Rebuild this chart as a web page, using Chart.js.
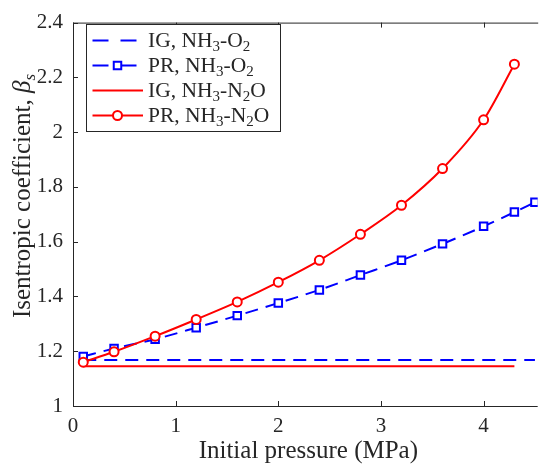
<!DOCTYPE html>
<html>
<head>
<meta charset="utf-8">
<script src="https://cdn.jsdelivr.net/npm/chart.js@4"></script>
<style>
html, body { margin: 0; padding: 0; background: #fff; }
</style>
</head>
<body>
<canvas id="chart" width="545" height="468"></canvas>
<script>
// pressures (MPa) where the markers sit
const pressureO2 = [0.1, 0.4, 0.8, 1.2, 1.6, 2.0, 2.4, 2.8, 3.2, 3.6, 4.0, 4.3, 4.5]
const pressureN2O = [0.1, 0.4, 0.8, 1.2, 1.6, 2.0, 2.4, 2.8, 3.2, 3.6, 4.0, 4.3]

// isentropic coefficient
const igO2 = [1.168, 1.168, 1.168, 1.168, 1.168, 1.168, 1.168, 1.168, 1.168, 1.168, 1.168, 1.168, 1.168]
const prO2 = [1.181, 1.210, 1.244, 1.286, 1.330, 1.376, 1.424, 1.478, 1.532, 1.592, 1.656, 1.708, 1.744]
const igN2O = [1.145, 1.145, 1.145, 1.145, 1.145, 1.145, 1.145, 1.145, 1.145, 1.145, 1.145, 1.145]
const prN2O = [1.160, 1.198, 1.255, 1.316, 1.380, 1.452, 1.532, 1.627, 1.733, 1.867, 2.045, 2.248]

const seriesLabels = ['IG, NH₃-O₂', 'PR, NH₃-O₂', 'IG, NH₃-N₂O', 'PR, NH₃-N₂O']
const xTicks = [0, 1, 2, 3, 4]
const yTicks = [1, 1.2, 1.4, 1.6, 1.8, 2, 2.2, 2.4]

const FONT = '"Liberation Serif", "DejaVu Serif", serif'
const AXIS = '#262626'
const BLUE = 'rgb(0, 0, 255)'
const RED = 'rgb(255, 0, 0)'

function toPoints(xs, ys) {
	return xs.map((x, i) => ({ x: x, y: ys[i] }))
}

const SUBS = { '₀': '0', '₁': '1', '₂': '2', '₃': '3', '₄': '4', '₅': '5', '₆': '6', '₇': '7', '₈': '8', '₉': '9' }

// draws text where unicode subscript digits become small lowered digits
function drawRichText(ctx, text, x, y, size) {
	let cx = x
	for (const ch of text) {
		if (SUBS[ch]) {
			ctx.font = `${Math.round(size * 0.7)}px ${FONT}`
			ctx.fillText(SUBS[ch], cx, y + size * 0.25)
			cx += ctx.measureText(SUBS[ch]).width
		} else {
			ctx.font = `${size}px ${FONT}`
			ctx.fillText(ch, cx, y)
			cx += ctx.measureText(ch).width
		}
	}
	return cx - x
}

// box round the axes and inward tick marks, like the original
const framePlugin = {
	id: 'frame',
	afterDatasetsDraw(chart) {
		const { ctx, chartArea: a, scales } = chart
		ctx.save()
		ctx.strokeStyle = AXIS
		ctx.lineWidth = 1
		ctx.beginPath()
		ctx.moveTo(a.left + 0.5, a.top + 0.5)
		ctx.lineTo(a.right + 0.5, a.top + 0.5)
		ctx.moveTo(a.left + 0.5, a.top)
		ctx.lineTo(a.left + 0.5, a.bottom + 0.5)
		ctx.lineTo(a.right, a.bottom + 0.5)
		const len = 5
		xTicks.forEach(t => {
			const px = Math.round(scales.x.getPixelForValue(t)) + 0.5
			ctx.moveTo(px, a.bottom)
			ctx.lineTo(px, a.bottom - len)
			ctx.moveTo(px, a.top)
			ctx.lineTo(px, a.top + len)
		})
		yTicks.forEach(t => {
			const py = Math.round(scales.y.getPixelForValue(t)) + 0.5
			ctx.moveTo(a.left, py)
			ctx.lineTo(a.left + len, py)
		})
		ctx.stroke()
		ctx.restore()
	},
}

// axis titles, the y one has italic beta with subscript s
const titlesPlugin = {
	id: 'titles',
	afterDraw(chart) {
		const { ctx, chartArea: a } = chart
		const size = 25
		ctx.save()
		ctx.fillStyle = AXIS
		ctx.textBaseline = 'alphabetic'
		ctx.font = `${size}px ${FONT}`
		ctx.textAlign = 'center'
		ctx.fillText('Initial pressure (MPa)', (a.left + a.right) / 2 + 3, 458)

		ctx.translate(30, 196)
		ctx.rotate(-Math.PI / 2)
		ctx.textAlign = 'left'
		const main = 'Isentropic coefficient, '
		ctx.font = `${size}px ${FONT}`
		const w1 = ctx.measureText(main).width
		ctx.font = `italic ${size}px ${FONT}`
		const w2 = ctx.measureText('β').width
		ctx.font = `italic 17px ${FONT}`
		const w3 = ctx.measureText('s').width
		let x = -(w1 + w2 + w3) / 2
		ctx.font = `${size}px ${FONT}`
		ctx.fillText(main, x, 0)
		x += w1
		ctx.font = `italic ${size}px ${FONT}`
		ctx.fillText('β', x, 0)
		x += w2
		ctx.font = `italic 17px ${FONT}`
		ctx.fillText('s', x, 5)
		ctx.restore()
	},
}

// legend box drawn by hand so the chemical formulas get real subscripts
const legendPlugin = {
	id: 'boxLegend',
	afterDraw(chart) {
		const { ctx } = chart
		const box = { x: 86.5, y: 24.5, w: 194, h: 107 }
		ctx.save()
		ctx.fillStyle = '#fff'
		ctx.fillRect(box.x, box.y, box.w, box.h)
		ctx.strokeStyle = AXIS
		ctx.lineWidth = 1
		ctx.strokeRect(box.x, box.y, box.w, box.h)
		chart.data.datasets.forEach((ds, i) => {
			const cy = 40.5 + i * 25
			ctx.strokeStyle = ds.borderColor
			ctx.lineWidth = ds.borderWidth
			// the legend sample uses a longer dash than the plot
			ctx.setLineDash(ds.borderDash ? [16, 12] : [])
			ctx.beginPath()
			ctx.moveTo(92.5, cy)
			ctx.lineTo(143, cy)
			ctx.stroke()
			ctx.setLineDash([])
			if (ds.pointRadius > 0) {
				ctx.fillStyle = ds.pointBackgroundColor
				ctx.strokeStyle = ds.borderColor
				ctx.lineWidth = ds.pointBorderWidth
				ctx.beginPath()
				if (ds.pointStyle === 'circle') {
					ctx.arc(117.5, cy, ds.pointRadius, 0, Math.PI * 2)
				} else {
					const s = ds.pointRadius * Math.SQRT1_2
					ctx.rect(117.5 - s, cy - s, 2 * s, 2 * s)
				}
				ctx.fill()
				ctx.stroke()
			}
			ctx.fillStyle = AXIS
			ctx.textBaseline = 'middle'
			drawRichText(ctx, seriesLabels[i], 148, cy + 1, 21.5)
		})
		ctx.restore()
	},
}

const ctx = document.getElementById('chart').getContext('2d')
new Chart(ctx, {
	type: 'line',
	data: {
		datasets: [
			{
				label: seriesLabels[0],
				data: toPoints(pressureO2, igO2),
				borderColor: BLUE,
				borderWidth: 2,
				borderDash: [13, 8],
				pointRadius: 0,
				order: 4,
			},
			{
				label: seriesLabels[1],
				data: toPoints(pressureO2, prO2),
				borderColor: BLUE,
				borderWidth: 2,
				borderDash: [13, 8],
				cubicInterpolationMode: 'monotone',
				pointStyle: 'rect',
				pointRadius: 5.3,
				pointBorderWidth: 2,
				pointBackgroundColor: '#fff',
				pointBorderColor: BLUE,
				order: 3,
			},
			{
				label: seriesLabels[2],
				data: toPoints(pressureN2O, igN2O),
				borderColor: RED,
				borderWidth: 2,
				pointRadius: 0,
				order: 2,
			},
			{
				label: seriesLabels[3],
				data: toPoints(pressureN2O, prN2O),
				borderColor: RED,
				borderWidth: 2,
				cubicInterpolationMode: 'monotone',
				pointStyle: 'circle',
				pointRadius: 4.5,
				pointBorderWidth: 2,
				pointBackgroundColor: '#fff',
				pointBorderColor: RED,
				order: 1,
			},
		],
	},
	options: {
		responsive: false,
		animation: false,
		layout: { padding: { top: 11, right: 0, left: 0, bottom: 0 } },
		plugins: {
			legend: { display: false },
			tooltip: { enabled: false },
		},
		scales: {
			x: {
				type: 'linear',
				min: 0,
				max: 4.527,
				afterBuildTicks: scale => {
					scale.ticks = xTicks.map(v => ({ value: v }))
				},
				afterFit: scale => {
					scale.height = 62
				},
				grid: { display: false, drawTicks: false },
				border: { display: false },
				ticks: {
					padding: 8,
					color: AXIS,
					font: { family: FONT, size: 21 },
					callback: v => String(v),
				},
			},
			y: {
				type: 'linear',
				min: 1,
				max: 2.4,
				afterBuildTicks: scale => {
					scale.ticks = yTicks.map(v => ({ value: v }))
				},
				afterFit: scale => {
					scale.width = 73
				},
				grid: { display: false, drawTicks: false },
				border: { display: false },
				ticks: {
					padding: 10,
					color: AXIS,
					font: { family: FONT, size: 21 },
					callback: v => String(Math.round(v * 10) / 10),
				},
			},
		},
	},
	plugins: [framePlugin, titlesPlugin, legendPlugin],
})
</script>
</body>
</html>
